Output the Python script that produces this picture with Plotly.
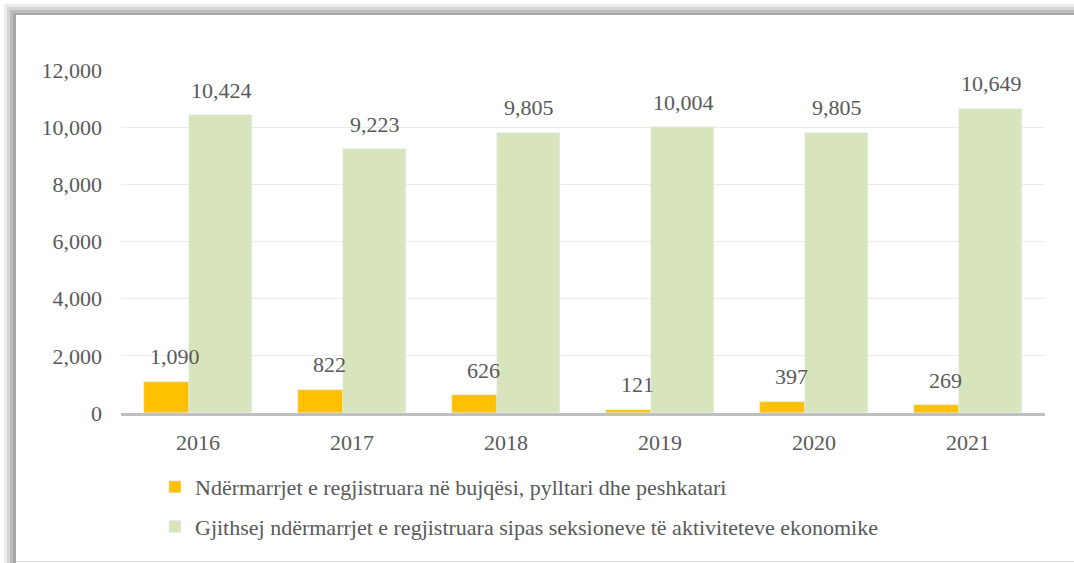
import plotly.graph_objects as go

years = ["2016", "2017", "2018", "2019", "2020", "2021"]
agri = [1090, 822, 626, 121, 397, 269]
total = [10424, 9223, 9805, 10004, 9805, 10649]
name_agri = "Ndërmarrjet e regjistruara në bujqësi, pylltari dhe peshkatari"
name_total = "Gjithsej ndërmarrjet e regjistruara sipas seksioneve të aktiviteteve ekonomike"
y_ticks = [0, 2000, 4000, 6000, 8000, 10000, 12000]

W, H = 1074, 563
L, R, T, B = 121, 29, 70, 150
FONT = "Palatino Linotype, Book Antiqua, Liberation Serif, serif"
TXT = "#595959"
FS = 22

fig = go.Figure()
fig.add_bar(x=years, y=agri, name=name_agri, marker_color="#FFC000",
            width=0.292, offset=-0.351, legendgroup="a")
fig.add_bar(x=years, y=total, name=name_total, marker_color="#D8E4BC",
            width=0.409, offset=-0.058, legendgroup="b")

for i, yr in enumerate(years):
    fig.add_annotation(x=i, y=agri[i], text=f"{agri[i]:,}", showarrow=False,
                       xshift=-23, yshift=25, font=dict(size=FS, color=TXT, family=FONT))
    fig.add_annotation(x=i, y=total[i], text=f"{total[i]:,}", showarrow=False,
                       xshift=23, yshift=25, font=dict(size=FS, color=TXT, family=FONT))

pw, ph = W - L - R, H - T - B
def px(x): return (x - L) / pw
def py(y): return (H - B - y) / ph

shapes = []
for off, col in [(4, "#ececec"), (7, "#d6d6d6"), (10, "#bdbdbd"), (13, "#a6a6a6")]:
    # left strip
    shapes.append(dict(type="rect", xref="paper", yref="paper", layer="below",
                       x0=px(off), y0=py(off), x1=px(16), y1=py(H),
                       fillcolor=col, line=dict(width=0)))
    # top strip
    shapes.append(dict(type="rect", xref="paper", yref="paper", layer="below",
                       x0=px(off), y0=py(off), x1=px(W), y1=py(15),
                       fillcolor=col, line=dict(width=0)))
shapes.append(dict(type="line", xref="paper", yref="paper", layer="below",
                   x0=px(16), y0=py(H - 1.5), x1=px(W), y1=py(H - 1.5),
                   line=dict(color="#dcdcdc", width=1)))

fig.update_layout(
    width=W, height=H,
    margin=dict(l=L, r=R, t=T, b=B),
    paper_bgcolor="white", plot_bgcolor="rgba(0,0,0,0)",
    barmode="overlay", bargap=0,
    font=dict(family=FONT, size=FS, color=TXT),
    shapes=shapes,
    showlegend=True,
    legend=dict(orientation="v", x=px(155), y=py(466), xanchor="left", yanchor="top",
                font=dict(size=FS, color=TXT, family=FONT), tracegroupgap=8,
                bgcolor="rgba(0,0,0,0)", itemwidth=30),
    xaxis=dict(type="category", range=[-0.5, 5.5], showgrid=False, ticks="", showline=True,
               linecolor="#bfbfbf", linewidth=3, ticklabelstandoff=8,
               tickfont=dict(size=FS, color=TXT, family=FONT)),
    yaxis=dict(range=[0, 12000], tickvals=y_ticks, tickformat=",", showgrid=True,
               gridcolor="#ececec", gridwidth=1, zeroline=False, showline=False,
               ticklabelstandoff=18, tickfont=dict(size=FS, color=TXT, family=FONT)),
)

fig.write_html("out.html", config={"displayModeBar": False},
               post_script="document.body.style.margin='0';document.body.style.overflow='hidden';document.documentElement.style.overflow='hidden';")
